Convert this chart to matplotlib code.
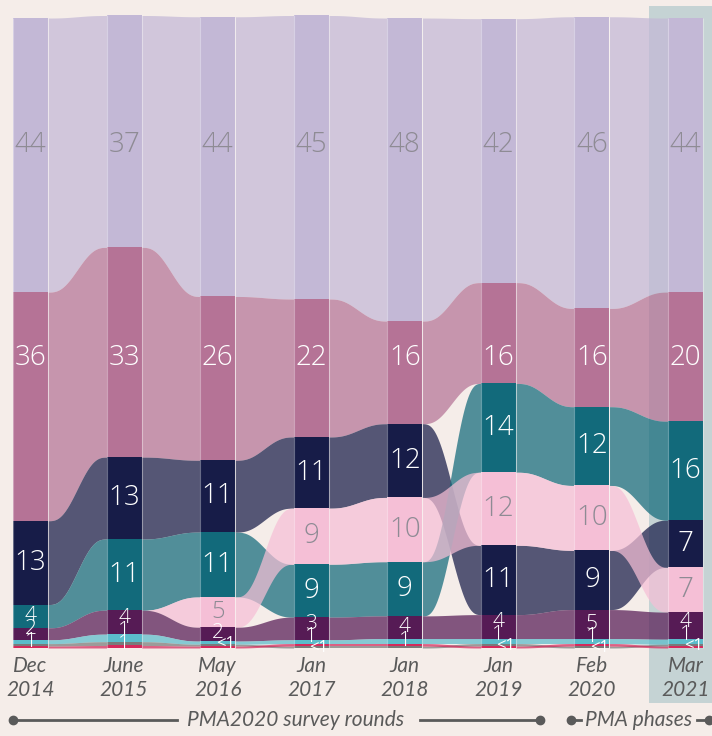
import numpy as np
import matplotlib.pyplot as plt
from matplotlib.patches import Rectangle

# survey rounds (columns)
rounds = ["Dec\n2014", "June\n2015", "May\n2016", "Jan\n2017",
          "Jan\n2018", "Jan\n2019", "Feb\n2020", "Mar\n2021"]

# share of each method (%), one list per method, one value per round
cat_a = [43.5, 36.8, 44.4, 45.0, 48.1, 41.9, 46.3, 43.5]   # lavender
cat_b = [36.3, 33.3, 26.0, 21.9, 16.3, 16.0, 15.6, 20.5]   # mauve
cat_c = [13.3, 13.0, 11.4, 11.3, 11.7, 11.0, 9.4, 7.5]     # navy
cat_d = [3.7, 11.3, 10.3, 8.4, 8.6, 14.1, 12.5, 15.7]      # teal
cat_e = [0.0, 0.0, 4.8, 8.9, 10.2, 11.6, 10.3, 7.1]        # pink
cat_f = [1.9, 3.8, 2.2, 3.6, 3.6, 3.8, 4.6, 4.3]           # purple
cat_g = [0.6, 1.2, 0.5, 0.6, 0.8, 0.8, 0.8, 0.8]           # cyan
cat_h = [0.4, 0.6, 0.3, 0.3, 0.3, 0.4, 0.3, 0.3]           # gray
cat_i = [0.3, 0.4, 0.3, 0.4, 0.4, 0.3, 0.4, 0.3]           # red

# printed labels
lab_a = ["44", "37", "44", "45", "48", "42", "46", "44"]
lab_b = ["36", "33", "26", "22", "16", "16", "16", "20"]
lab_c = ["13", "13", "11", "11", "12", "11", "9", "7"]
lab_d = ["4", "11", "11", "9", "9", "14", "12", "16"]
lab_e = ["", "", "5", "9", "10", "12", "10", "7"]
lab_f = ["2", "4", "2", "3", "4", "4", "5", "4"]
lab_g = ["1", "1", "<1", "1", "1", "1", "1", "1"]
lab_h = ["", "1", "", "<1", "", "<1", "<1", "<1"]
lab_i = ["", "", "", "", "", "", "", ""]

colors = ["#c3b8d6", "#b57396", "#171c48", "#126a7b", "#f5bfd6",
          "#561b55", "#5bbccb", "#7a7a7a", "#d52a5c"]
dark_text = [True, False, False, False, True, False, False, False, False]

vals = np.array([cat_a, cat_b, cat_c, cat_d, cat_e, cat_f, cat_g, cat_h, cat_i])
labels = [lab_a, lab_b, lab_c, lab_d, lab_e, lab_f, lab_g, lab_h, lab_i]
ncat, ncol = vals.shape

bg = "#f5ede9"
w = 0.374
numfont = ["Open Sans", "DejaVu Sans"]
pxu = 6.3  # pixels per percent point

fig = plt.figure(figsize=(7.12, 7.36), dpi=100)
fig.patch.set_facecolor(bg)
ax = fig.add_axes([0, 0, 1, 1])
ax.set_facecolor(bg)
ax.set_xlim(-0.326, 7.283)
ax.set_ylim(-13.97, 102.86)
ax.axis("off")

# stack each column, largest on top (an empty method sits where it will appear next)
top = np.zeros_like(vals)
bot = np.zeros_like(vals)
for j in range(ncol):
    def key(k):
        v = vals[k, j]
        if v == 0 and j + 1 < ncol:
            v = vals[k, j + 1] - 0.01
        return (-v, k)
    order = sorted(range(ncat), key=key)
    y = vals[:, j].sum()
    for k in order:
        top[k, j] = y
        bot[k, j] = y - vals[k, j]
        y -= vals[k, j]

# highlighted latest phase
ax.add_patch(Rectangle((6.61, -8.73), 1.0, 110.6, color="#c5d3d4", zorder=0, lw=0))

# flows between columns
for i in range(ncol - 1):
    xs = np.linspace(i + w / 2, i + 1 - w / 2, 80)
    t = np.linspace(0, 1, 80)
    s = t ** 3 * (6 * t ** 2 - 15 * t + 10)
    for k in range(ncat):
        if vals[k, i] == 0 and vals[k, i + 1] == 0:
            continue
        yt = top[k, i] + (top[k, i + 1] - top[k, i]) * s
        yb = bot[k, i] + (bot[k, i + 1] - bot[k, i]) * s
        ax.fill_between(xs, yb, yt, color=colors[k], alpha=0.72, lw=0, zorder=2)

# bars
for j in range(ncol):
    for k in range(ncat):
        v = vals[k, j]
        if v == 0:
            continue
        ax.bar(j, v, bottom=bot[k, j], width=w, color=colors[k], lw=0, zorder=3)
    total = vals[:, j].sum()
    ax.vlines([j - w / 2, j + w / 2], 0, total, color="white", alpha=0.35, lw=0.8, zorder=4)

# labels: two largest at fixed heights, the rest centred and pushed apart from the bottom
fixed_y = {0: 79.8, 1: 46.0}
for j in range(ncol):
    items = []
    for k in range(ncat):
        lab = labels[k][j]
        if not lab:
            continue
        yc = fixed_y.get(k, (top[k, j] + bot[k, j]) / 2)
        items.append([yc, k, lab])
    items.sort()
    prev = None
    prev_lab = ""
    for it in items:
        if prev is not None and it[1] not in fixed_y:
            gap = 13 / pxu if prev_lab != "<1" else 10 / pxu
            it[0] = max(it[0], prev + gap)
        prev = it[0]
        prev_lab = it[2]
    for yc, k, lab in items:
        v = vals[k, j]
        tc = "#8e8b94" if dark_text[k] else "white"
        if lab == "<1":
            ax.text(j - 0.02, yc - 0.2, lab, ha="left", va="center", fontsize=12,
                    color=tc, family=numfont, zorder=5)
            continue
        if v >= 7:
            fs = 20
        elif v >= 4.7:
            fs = 17
        else:
            fs = 15
        ax.text(j, yc, lab, ha="center", va="center", fontsize=fs,
                color=tc, family=numfont, fontweight="light", zorder=5)

# x labels
for j, r in enumerate(rounds):
    m, yr = r.split("\n")
    ax.text(j, -2.86, m, ha="center", va="center", fontsize=15, style="italic",
            color="#5a5a5a", family="Lato")
    ax.text(j, -6.67, yr, ha="center", va="center", fontsize=15, style="italic",
            color="#5a5a5a", family="Lato")

# bottom legend
def px(p):
    return (p - 30.5) / 93.57

ly = -11.43
lc = "#5a5a5a"
ax.plot([px(13), px(177)], [ly, ly], color=lc, lw=2, clip_on=False)
ax.plot([px(420), px(540)], [ly, ly], color=lc, lw=2, clip_on=False)
ax.plot([px(13), px(540)], [ly, ly], "o", color=lc, ms=6, lw=0, clip_on=False)
ax.text(px(296), ly, "PMA2020 survey rounds", ha="center", va="center", fontsize=15,
        style="italic", color=lc, family="Lato")
ax.plot([px(571), px(581)], [ly, ly], color=lc, lw=2, clip_on=False)
ax.plot([px(571)], [ly], "o", color=lc, ms=6, clip_on=False)
ax.text(px(585), ly, "PMA phases", ha="left", va="center", fontsize=15,
        style="italic", color=lc, family="Lato")
ax.plot([px(697), px(712)], [ly, ly], color=lc, lw=2, clip_on=False)
ax.plot([px(709)], [ly], "o", color=lc, ms=6, clip_on=False)

fig.savefig("out.png", dpi=100, facecolor=bg)
